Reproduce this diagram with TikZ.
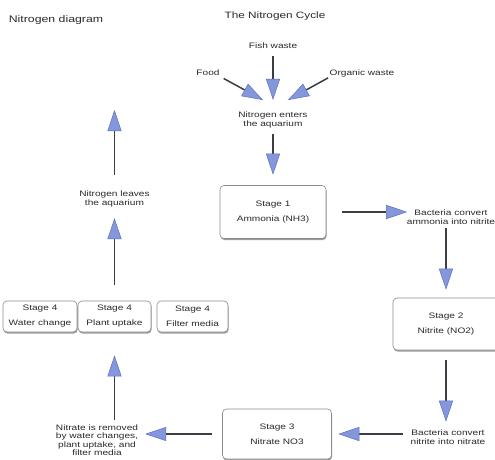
\documentclass[tikz,border=0pt]{standalone}
\usepackage{fontspec}
\setmainfont{Liberation Sans}[FakeStretch=1.28]
\usetikzlibrary{arrows.meta,shadows}
\definecolor{txt}{HTML}{2A2A2A}
\definecolor{tipblue}{HTML}{8496DC}
\definecolor{tipedge}{HTML}{5E70C0}
\definecolor{shaft}{HTML}{3C3C44}
\begin{document}
\begin{tikzpicture}[x=1pt,y=-1pt,
  lbl/.style={text=txt, align=center, inner sep=0.5pt, font=\fontsize{7.9}{9.5}\selectfont},
  lbltight/.style={lbl, font=\fontsize{7.9}{8.5}\selectfont},
  ttl/.style={text=txt, inner sep=0pt},
  stagebox/.style={draw=black!45, line width=0.6pt, rounded corners=4pt, fill=white, text=txt,
    align=center, font=\fontsize{7.9}{15}\selectfont, inner sep=0pt,
    drop shadow={shadow xshift=0.6pt, shadow yshift=-1.6pt, fill=black!60, opacity=0.65}},
  arr/.style={draw=shaft, line width=1.5pt,
    -{Triangle[length=21pt,width=14pt,fill=tipblue,color=tipedge,line width=0.5pt]}}
]
\fill[white] (0,0) rectangle (495,460);
\useasboundingbox (0,0) rectangle (495,460);

% titles
\node[ttl, font=\fontsize{9.6}{12}\selectfont] (t1) at (56,20) {Nitrogen diagram};
\node[ttl, font=\fontsize{9.2}{11}\selectfont] (t2) at (275,16) {The Nitrogen Cycle};

% inputs
\node[lbl] (fish) at (273,46) {Fish waste};
\node[lbl] (food) at (208,73) {Food};
\node[lbl] (org) at (362,73) {Organic waste};
\node[lbl] (enters) at (273,120) {Nitrogen enters\\the aquarium};
\coordinate (foodtip) at (263,100);
\coordinate (orgtip) at (288,100);

% stages
\node[stagebox, minimum width=106pt, minimum height=53pt] (s1) at (273,212) {Stage 1\\Ammonia (NH3)};
\node[lbl] (b1) at (451,217) {Bacteria convert\\ammonia into nitrite};
\node[stagebox, minimum width=106pt, minimum height=52pt] (s2) at (446,324) {Stage 2\\Nitrite (NO2)};
\node[lbl] (b2) at (448,437) {Bacteria convert\\nitrite into nitrate};
\node[stagebox, minimum width=109pt, minimum height=50pt] (s3) at (277,434) {Stage 3\\Nitrate NO3};
\node[lbltight] (rem) at (97,440) {Nitrate is removed\\by water changes,\\plant uptake, and\\filter media};
\node[stagebox, minimum width=74pt, minimum height=31pt] (s4a) at (40,316.5) {Stage 4\\Water change};
\node[stagebox, minimum width=73pt, minimum height=31pt] (s4b) at (114.5,316.5) {Stage 4\\Plant uptake};
\node[stagebox, minimum width=71pt, minimum height=31pt] (s4c) at (192.5,316.5) {Stage 4\\Filter media};
\node[lbltight] (leaves) at (114.5,199) {Nitrogen leaves\\the aquarium};
\coordinate (out) at (114.5,110);

% arrows
\draw[arr, shorten <=6.5pt, shorten >=11pt] (fish) -- (enters);
\draw[arr, shorten <=4pt] (food.south east) -- (foodtip);
\draw[arr, shorten <=1pt] (org.south west) -- (orgtip);
\draw[arr, shorten <=5pt, shorten >=10.5pt] (enters) -- (s1);
\draw[arr, shorten <=16pt, shorten >=-1pt] (s1.east) -- (s1.east -| b1.west);
\draw[arr, shorten <=3pt, shorten >=8pt] (b1.south -| s2.north) -- (s2.north);
\draw[arr, shorten <=10pt, shorten >=7pt] (s2.south) -- (s2.south |- b2.north);
\draw[arr, shorten <=7pt, shorten >=6.5pt] (b2.west |- s3.east) -- (s3.east);
\draw[arr, shorten <=10.5pt, shorten >=6.5pt] (s3.west) -- (s3.west -| rem.east);
\draw[arr, shorten <=4pt, shorten >=23pt] (rem.north -| s4b.south) -- (s4b.south);
\draw[arr, shorten <=16pt, shorten >=10.5pt] (s4b.north) -- (s4b.north |- leaves.south);
\draw[arr, shorten <=15.5pt] (leaves.north) -- (out);
\end{tikzpicture}
\end{document}
